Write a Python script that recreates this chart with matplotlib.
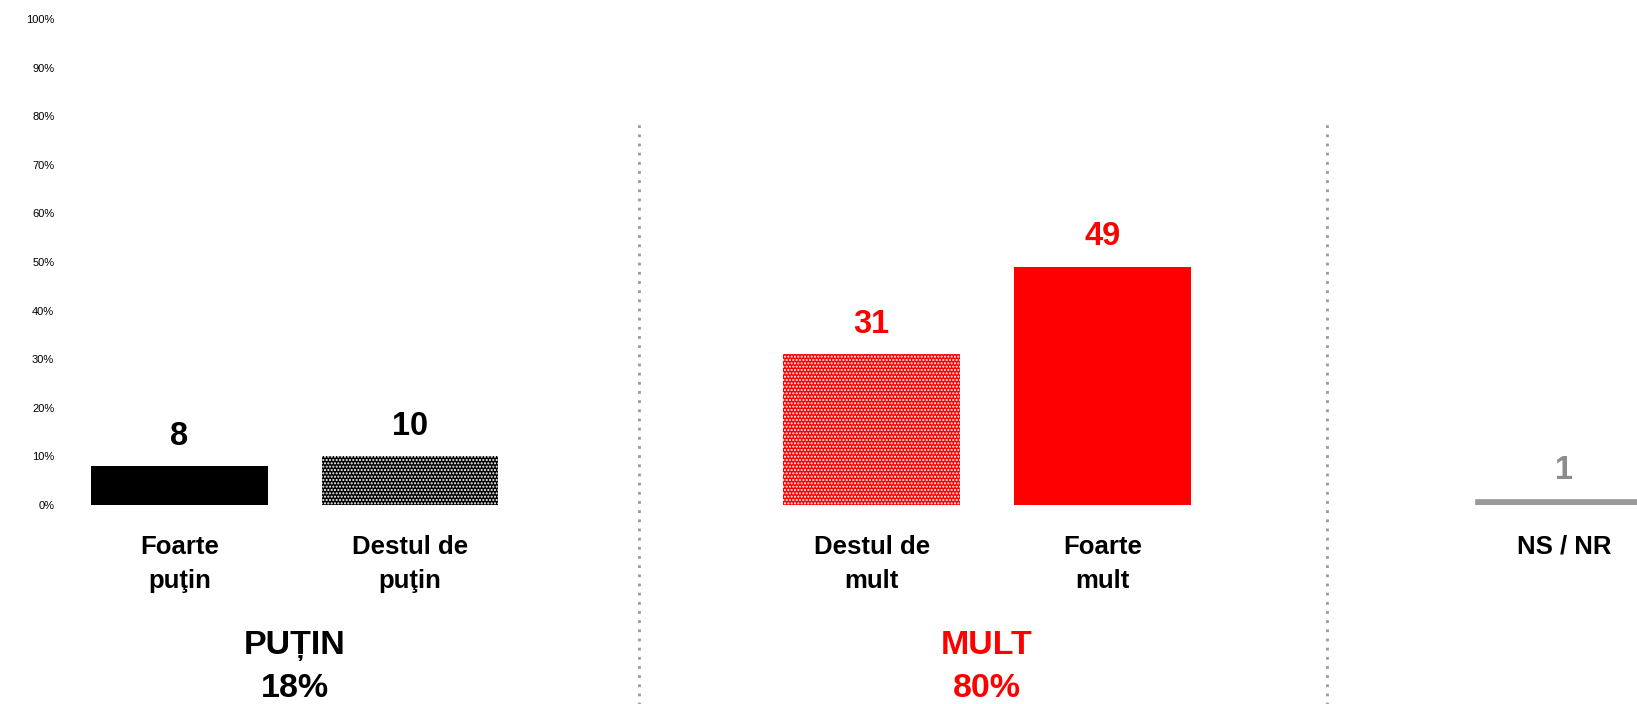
import matplotlib.pyplot as plt
import matplotlib.transforms as mtransforms

plt.rcParams['font.family'] = ['Liberation Sans', 'DejaVu Sans']
plt.rcParams['hatch.linewidth'] = 1.0

# Data
categories = ['Foarte\npuţin', 'Destul de\npuţin', 'Destul de\nmult', 'Foarte\nmult', 'NS / NR']
values = [8, 10, 31, 49, 1]
groups = ['PUȚIN', 'MULT']
group_totals = [18, 80]
yticks = [0, 10, 20, 30, 40, 50, 60, 70, 80, 90, 100]

# slot positions (gaps between groups)
positions = [0, 1, 3, 4, 6]
separators = [1.99, 4.975]
group_centers = [0.5, 3.5]

face_colors = ['#000000', '#000000', '#ff0000', '#ff0000', '#999999']
hatches = [None, '.....', '.....', None, None]
edge_colors = ['white', 'white', 'white', 'white', '#999999']
edge_widths = [0, 0, 0, 0, 1.2]
label_colors = ['#000000', '#000000', '#ff0000', '#ff0000', '#8c8c8c']
group_colors = ['#000000', '#ff0000']

fig = plt.figure(figsize=(16.37, 7.04), dpi=100)
ax = fig.add_axes([64 / 1637, 1 - 505 / 704, 1 - 64 / 1637, 486 / 704])

for x, v, fc, h, ec, ew, lc in zip(positions, values, face_colors, hatches,
                                   edge_colors, edge_widths, label_colors):
    ax.bar(x, v, width=0.765, color=fc, hatch=h, edgecolor=ec, linewidth=ew)
    ax.annotate(str(v), (x, v), xytext=(0, 21.5), textcoords='offset points',
                ha='center', va='center', fontsize=23.5, fontweight='bold', color=lc)

for s in separators:
    ax.axvline(s, ymin=-1, ymax=(505 - 124) / 486, color='#999999', linestyle=(0, (1, 2.3)),
               linewidth=2, clip_on=False)

ax.set_xlim(-0.5, 6.317)
ax.set_ylim(0, 100)
ax.set_yticks(yticks)
ax.set_yticklabels([f'{t}%' for t in yticks], fontsize=8, color='#000000')
ax.tick_params(axis='y', length=0, pad=7)
ax.set_xticks([])
for sp in ax.spines.values():
    sp.set_visible(False)

trans = mtransforms.blended_transform_factory(ax.transData, fig.transFigure)
for x, c in zip(positions, categories):
    # first line sits at the same height for every label
    y_px = 546 + c.count('\n') * 18
    ax.text(x, 1 - y_px / 704, c, transform=trans, ha='center', va='center',
            fontsize=18.5, fontweight='bold', linespacing=1.55, color='#000000')

for gx, g, t, gc in zip(group_centers, groups, group_totals, group_colors):
    ax.text(gx, 1 - 667 / 704, f'{g}\n{t}%', transform=trans, ha='center', va='center',
            fontsize=24.5, fontweight='bold', linespacing=1.5, color=gc)

fig.savefig('out.png', dpi=100)
